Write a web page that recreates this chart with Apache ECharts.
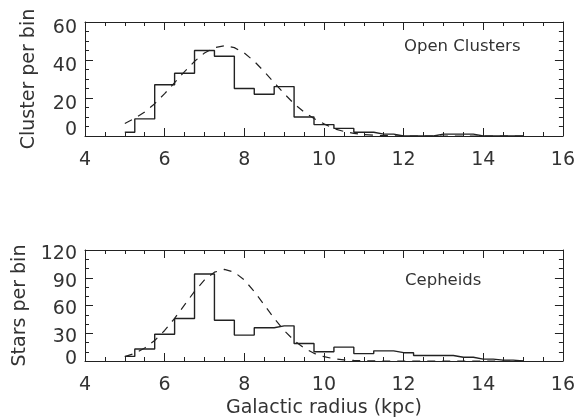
<!DOCTYPE html>
<html>
<head>
<meta charset="utf-8">
<script src="https://cdn.jsdelivr.net/npm/echarts@6/dist/echarts.min.js"></script>
<style>
html,body{margin:0;padding:0;background:#fff;}
#chart{width:578px;height:419px;}
</style>
</head>
<body>
<div id="chart"></div>
<script>
// ---- data ----
const binCenters = [5, 5.5, 6, 6.5, 7, 7.5, 8, 8.5, 9, 9.5, 10, 10.5, 11, 11.5, 12, 12.5, 13, 13.5, 14, 14.5, 15];
const clusterCounts = [2, 9, 27, 33, 45, 42, 25, 22, 26, 10, 6, 4, 2, 1, 0, 0, 1, 1, 0, 0, 0];
const cepheidCounts = [5, 13, 29, 46, 94, 44, 28, 36, 38, 19, 10, 15, 8, 11, 9, 6, 6, 4, 2, 1, 0];

const modelX = [5, 5.25, 5.5, 5.75, 6, 6.25, 6.5, 6.75, 7, 7.25, 7.5, 7.75, 8, 8.25, 8.5, 8.75, 9, 9.25, 9.5, 9.75,
                10, 10.25, 10.5, 10.75, 11, 11.25, 11.5, 11.75, 12, 12.25, 12.5, 12.75, 13, 13.25, 13.5, 13.75, 14, 14.25, 14.5, 14.75, 15];
const clusterModel = [6.6, 9.3, 12.6, 17.0, 22.3, 28.1, 33.9, 39.3, 43.7, 46.5, 47.5, 46.5, 43.7, 39.3, 33.9, 28.1, 22.3, 17.0, 12.6, 9.2,
                      6.4, 3.9, 2.4, 1.4, 0.8, 0.4, 0.2, 0.1, 0, 0, 0, 0, 0, 0, 0, 0, 0, 0, 0, 0, 0];
const cepheidModel = [4.7, 8.3, 14.0, 22.2, 33.0, 46.1, 60.7, 75.2, 87.6, 96.0, 99.0, 96.0, 87.6, 75.2, 60.7, 46.1, 33.0, 22.2, 14.0, 8.3,
                      4.7, 2.5, 1.2, 0.6, 0.3, 0.1, 0, 0, 0, 0, 0, 0, 0, 0, 0, 0, 0, 0, 0, 0, 0];

const xTicks = [4, 6, 8, 10, 12, 14, 16];
const clusterYTicks = [0, 20, 40, 60];
const cepheidYTicks = [0, 30, 60, 90, 120];

const panelLabels = ['Open Clusters', 'Cepheids'];
const yNames = ['Cluster per bin', 'Stars per bin'];
const xName = 'Galactic radius (kpc)';

// ---- chart ----
const FONT = 'DejaVu Sans';
const INK = '#222';
const TXT = '#333';
const chart = echarts.init(document.getElementById('chart'), null, {renderer: 'canvas'});

function pairs(xs, ys) { return xs.map((x, i) => [x, ys[i]]); }

function xAxisDef(gridIndex, position, showLabels, name) {
  return {
    type: 'value', gridIndex, position,
    min: xTicks[0], max: xTicks[xTicks.length - 1], interval: xTicks[1] - xTicks[0],
    axisLine: {show: true, onZero: false, lineStyle: {color: INK, width: 1}},
    axisTick: {show: true, inside: true, length: 8, lineStyle: {color: INK, width: 1}},
    minorTick: {show: true, splitNumber: 4, length: 4, lineStyle: {color: INK, width: 1}},
    splitLine: {show: false},
    axisLabel: {show: showLabels, color: TXT, fontFamily: FONT, fontSize: 19, margin: 15,
                showMinLabel: true, showMaxLabel: true, hideOverlap: false},
    name: name || '', nameLocation: 'middle', nameGap: 38,
    nameTextStyle: {color: TXT, fontFamily: FONT, fontSize: 19}
  };
}

function yAxisDef(gridIndex, position, ticks, minorSplit, showLabels, name, padHi, padLo) {
  return {
    type: 'value', gridIndex, position,
    min: ticks[0], max: ticks[ticks.length - 1], interval: ticks[1] - ticks[0],
    axisLine: {show: true, onZero: false, lineStyle: {color: INK, width: 1}},
    axisTick: {show: true, inside: true, length: 8, lineStyle: {color: INK, width: 1}},
    minorTick: {show: true, splitNumber: minorSplit, length: 4, lineStyle: {color: INK, width: 1}},
    splitLine: {show: false},
    axisLabel: {
      show: showLabels, color: TXT, fontFamily: FONT, fontSize: 19, margin: 8,
      showMinLabel: true, showMaxLabel: true, hideOverlap: false,
      formatter: v => (v === ticks[0] ? '{lo|' + v + '}' : '{hi|' + v + '}'),
      rich: {
        hi: {color: TXT, fontFamily: FONT, fontSize: 19, padding: [padHi || 0, 0, 0, 0]},
        lo: {color: TXT, fontFamily: FONT, fontSize: 19, padding: [0, 0, padLo || 0, 0]}
      }
    },
    name: name || '', nameLocation: 'middle', nameGap: 46,
    nameTextStyle: {color: TXT, fontFamily: FONT, fontSize: 19}
  };
}

const option = {
  backgroundColor: '#fff',
  animation: false,
  title: [
    {text: panelLabels[0], left: 404, top: 38, padding: 0, textStyle: {color: TXT, fontFamily: FONT, fontSize: 16.5, fontWeight: 'normal'}},
    {text: panelLabels[1], left: 405, top: 272, padding: 0, textStyle: {color: TXT, fontFamily: FONT, fontSize: 16.5, fontWeight: 'normal'}}
  ],
  grid: [
    {left: 85, right: 14, top: 22, height: 114},
    {left: 85, right: 14, top: 250, height: 113}
  ],
  xAxis: [
    xAxisDef(0, 'bottom', true),
    xAxisDef(0, 'top', false),
    xAxisDef(1, 'bottom', true, xName),
    xAxisDef(1, 'top', false)
  ],
  yAxis: [
    yAxisDef(0, 'left', clusterYTicks, 4, true, yNames[0], 13, 11),
    yAxisDef(0, 'right', clusterYTicks, 4, false),
    yAxisDef(1, 'left', cepheidYTicks, 3, true, yNames[1], 8, 3),
    yAxisDef(1, 'right', cepheidYTicks, 3, false)
  ],
  series: [
    {type: 'line', xAxisIndex: 0, yAxisIndex: 0, step: 'middle', symbol: 'none',
     lineStyle: {color: INK, width: 1.4}, data: pairs(binCenters, clusterCounts)},
    {type: 'line', xAxisIndex: 0, yAxisIndex: 0, symbol: 'none', smooth: false,
     lineStyle: {color: INK, width: 1.2, type: [8, 7]}, data: pairs(modelX, clusterModel)},
    {type: 'line', xAxisIndex: 2, yAxisIndex: 2, step: 'middle', symbol: 'none',
     lineStyle: {color: INK, width: 1.4}, data: pairs(binCenters, cepheidCounts)},
    {type: 'line', xAxisIndex: 2, yAxisIndex: 2, symbol: 'none', smooth: false,
     lineStyle: {color: INK, width: 1.2, type: [8, 7]}, data: pairs(modelX, cepheidModel)}
  ]
};
chart.setOption(option);
</script>
</body>
</html>
